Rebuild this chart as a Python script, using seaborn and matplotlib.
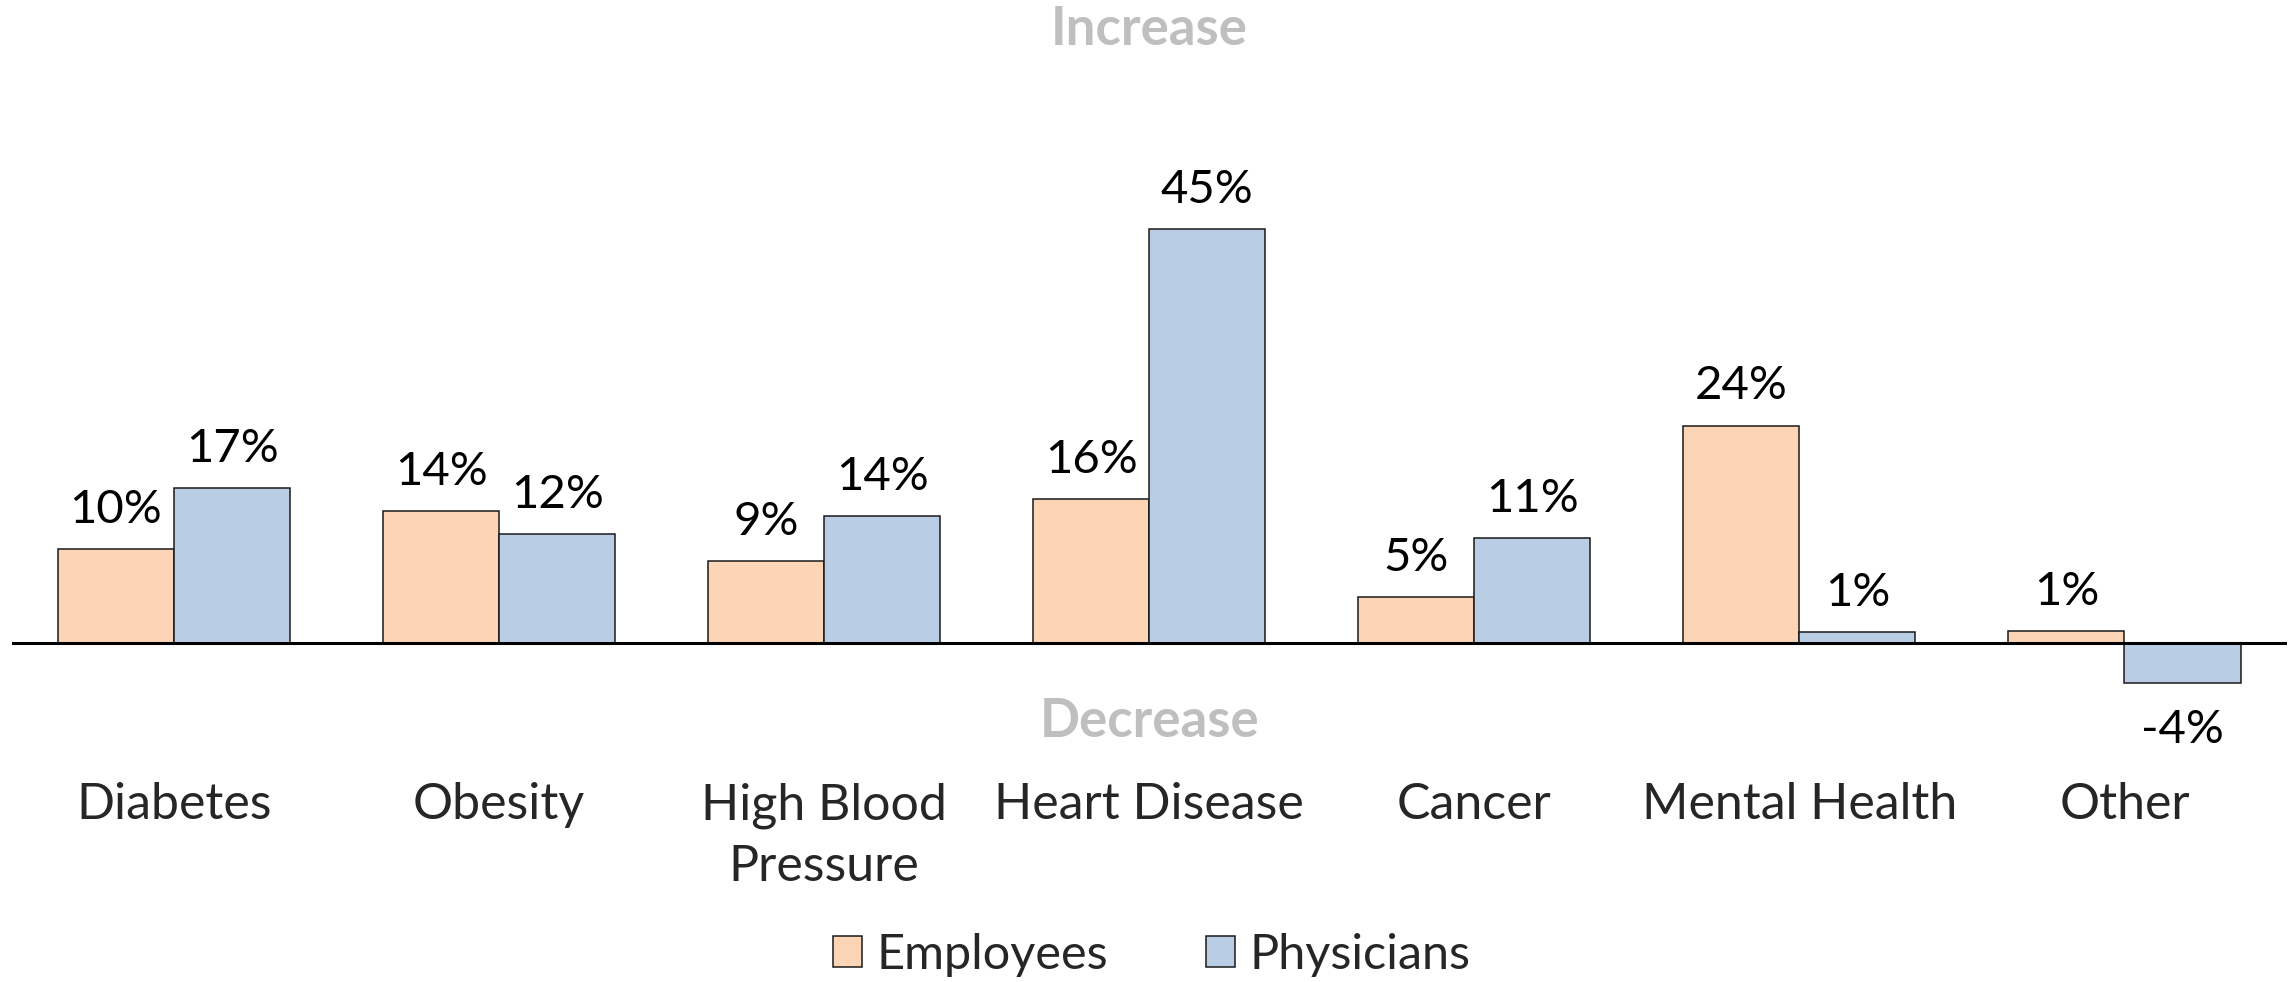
""" Change in health condition rates: employees vs physicians """

import matplotlib.pyplot as plt
import pandas as pd
import seaborn as sns
from matplotlib.patches import Patch

# data
conditions = ["Diabetes", "Obesity", "High Blood\nPressure", "Heart Disease",
              "Cancer", "Mental Health", "Other"]
employees = [10.2, 14.3, 8.9, 15.6, 5.0, 23.6, 1.3]
physicians = [16.8, 11.8, 13.8, 45.0, 11.4, 1.2, -4.4]
groups = ["Employees", "Physicians"]
colors = ["#FBD5B5", "#B9CDE5"]

df = pd.DataFrame({
    "condition": conditions * 2,
    "value": employees + physicians,
    "group": [groups[0]] * len(conditions) + [groups[1]] * len(conditions),
})

sns.set_theme(style="white")
plt.rcParams["font.family"] = ["Lato", "DejaVu Sans"]

W, H = 2290, 982
fig = plt.figure(figsize=(W / 100, H / 100), dpi=100)
# zero line sits at y=643px, 9.2px per percent
ax = fig.add_axes([11.5 / W, (H - 735) / H, (2287 - 11.5) / W, 735 / H])

sns.barplot(data=df, x="condition", y="value", hue="group", palette=colors,
            width=0.714, edgecolor="#1a1a1a", linewidth=1.1, ax=ax,
            saturation=1, legend=False)

ax.set_xlim(-0.5, 6.5)
ax.set_ylim(-10, 643 / 9.2)
ax.axhline(0, color="black", lw=2.2, zorder=5)
for side in ["top", "right", "left", "bottom"]:
    ax.spines[side].set_visible(False)
ax.set_yticks([])
ax.set_xlabel("")
ax.set_ylabel("")
ax.tick_params(axis="x", length=0, pad=34, labelsize=36)
for lbl in ax.get_xticklabels():
    lbl.set_linespacing(1.4)

# value labels
for container in ax.containers:
    for bar in container:
        v = bar.get_height()
        x = bar.get_x() + bar.get_width() / 2
        if v >= 0:
            ax.text(x, v + 2.0, f"{v:.0f}%", ha="center", va="bottom",
                    fontsize=34, color="black")
        else:
            ax.text(x, v - 2.8, f"{v:.0f}%", ha="center", va="top",
                    fontsize=34, color="black")

ax.text(3, 66.7, "Increase", ha="center", va="center", fontsize=38,
        fontweight="bold", color="#BFBFBF")
ax.text(3, -8.5, "Decrease", ha="center", va="center", fontsize=38,
        fontweight="bold", color="#BFBFBF")

handles = [Patch(facecolor=c, edgecolor="#1a1a1a", linewidth=1.1) for c in colors]
fig.legend(handles, groups, loc="center", bbox_to_anchor=(0.503, 27 / H), ncol=2,
           frameon=False, fontsize=35, handlelength=0.6, handleheight=0.6,
           handletextpad=0.3, columnspacing=2.0)

plt.savefig("out.png", dpi=100)
